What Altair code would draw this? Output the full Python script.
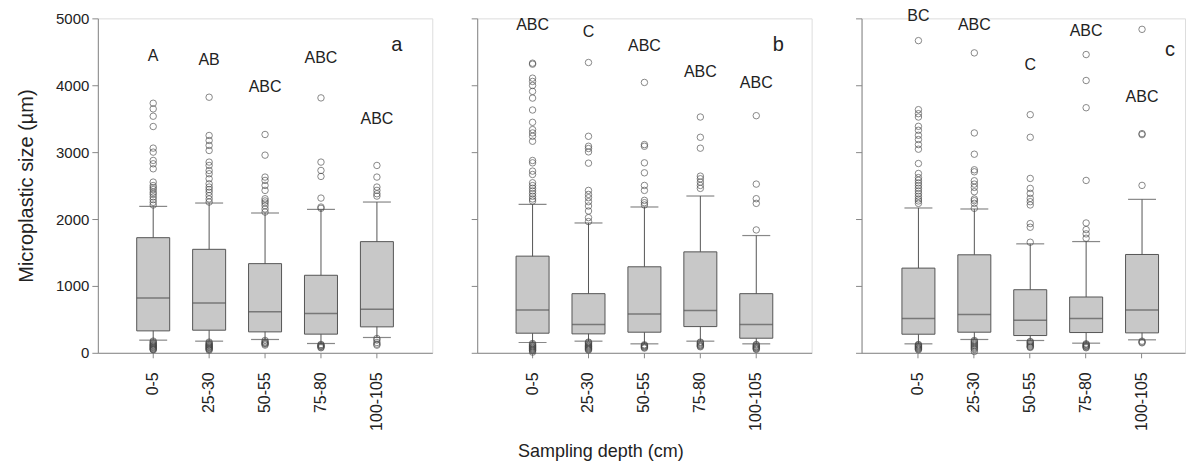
import altair as alt
import pandas as pd

cats = ["0-5", "25-30", "50-55", "75-80", "100-105"]
panel_ids = ["a", "b", "c"]

# box statistics per panel (µm)
q1 = {"a": [328, 338, 313, 279, 388], "b": [293, 283, 308, 392, 218], "c": [278, 308, 258, 303, 298]}
med = {"a": [821, 746, 612, 587, 652], "b": [641, 422, 581, 631, 422], "c": [511, 571, 487, 511, 640]}
q3 = {"a": [1721, 1547, 1333, 1159, 1662], "b": [1445, 884, 1286, 1509, 884], "c": [1266, 1465, 943, 834, 1470]}
wlo = {"a": [189, 174, 199, 139, 229], "b": [154, 174, 134, 174, 134], "c": [134, 199, 184, 144, 194]}
whi = {"a": [2189, 2239, 2090, 2144, 2254], "b": [2219, 1941, 2180, 2344, 1753], "c": [2165, 2150, 1629, 1663, 2294]}

outliers = {
    "a": {
        "0-5": [3731, 3647, 3537, 3383, 3060, 3000, 2876, 2826, 2751, 2552, 2500, 2470, 2440, 2400, 2370, 2330, 2290, 2250, 2210,
                175, 160, 145, 130, 120, 110, 100, 90, 80, 70, 60, 50, 45],
        "25-30": [3821, 3249, 3174, 3100, 3025, 2851, 2801, 2726, 2677, 2602, 2527, 2478, 2440, 2400, 2350, 2300, 2254,
                  160, 145, 130, 120, 110, 100, 90, 80, 70, 60, 50, 40],
        "50-55": [3264, 2955, 2627, 2577, 2502, 2428, 2303, 2270, 2240, 2200, 2150, 2104, 185, 164, 150, 140, 130, 115],
        "75-80": [3811, 2851, 2726, 2637, 2313, 2179, 2160, 125, 115, 105, 95, 85, 75],
        "100-105": [2801, 2627, 2478, 2428, 2378, 2343, 214, 190, 154, 130, 114],
    },
    "b": {
        "0-5": [4330, 4315, 4106, 4057, 3997, 3908, 3808, 3630, 3446, 3337, 3287, 3237, 3163, 2875, 2840, 2716, 2666, 2542, 2500,
                2460, 2420, 2380, 2340, 2300, 2269, 140, 125, 110, 100, 90, 80, 70, 60, 50, 40, 30, 10],
        "25-30": [4340, 3237, 3088, 3054, 3004, 2835, 2428, 2368, 2319, 2259, 2195, 2120, 2021, 1962,
                  160, 150, 135, 120, 110, 100, 90, 80, 70, 60, 50, 40],
        "50-55": [4042, 3113, 3088, 2840, 2691, 2502, 2428, 2279, 2244, 2210, 120, 110, 100, 90, 80, 70],
        "75-80": [3525, 3222, 3059, 2641, 2602, 2552, 2502, 2458, 160, 150, 135, 120, 110, 100, 90],
        "100-105": [3545, 2522, 2304, 2234, 1837, 125, 115, 100, 90, 80, 70, 60, 50],
    },
    "c": {
        "0-5": [4667, 3635, 3575, 3525, 3386, 3327, 3252, 3188, 3113, 3044, 2830, 2681, 2620, 2580, 2540, 2500, 2460, 2420, 2380,
                2340, 2300, 2270, 2234, 125, 115, 105, 95, 85, 75, 65, 55, 45],
        "25-30": [4484, 3287, 2969, 2736, 2706, 2572, 2522, 2473, 2408, 2299, 2274, 2234, 2160,
                  185, 170, 155, 140, 125, 110, 95, 80, 65, 50, 20],
        "50-55": [3560, 3222, 2607, 2458, 2383, 2309, 2259, 2210, 1932, 1877, 1653, 170, 160, 145, 130, 115, 100, 90, 80],
        "75-80": [4459, 4071, 3664, 2577, 1941, 1842, 1778, 1713, 135, 125, 115, 105, 95, 85, 75],
        "100-105": [4836, 3277, 3262, 2503, 174, 160, 149],
    },
}

sig_labels = {"a": ["A", "AB", "ABC", "ABC", "ABC"], "b": ["ABC", "C", "ABC", "ABC", "ABC"], "c": ["BC", "ABC", "C", "ABC", "ABC"]}
sig_y = {"a": [4443, 4378, 3970, 4408, 3488], "b": [4901, 4801, 4588, 4196, 4032], "c": [5030, 4901, 4310, 4816, 3823]}
panel_letter_y = {"a": 4607, "b": 4600, "c": 4520}
panel_letter_dx = {"a": 20, "b": 22, "c": 28}

FONT = "Liberation Sans"
BOX_FILL = "#c8c8c8"
LINE = "#555555"
AXIS = "#777777"
TEXT = "#222222"

# panel widths (px) and band-scale outer padding / alignment so boxes sit at the same offsets
panel_width = {"a": 335, "b": 335, "c": 324}
outer_pad = {"a": 0.695, "b": 0.695, "c": 0.598}
band_align = {"a": 0.5, "b": 0.5, "c": 0.604}


def make_panel(pid, first):
    stats = pd.DataFrame({"cat": cats, "q1": q1[pid], "med": med[pid], "q3": q3[pid],
                          "lo": wlo[pid], "hi": whi[pid]})
    out_rows = [{"cat": c, "v": v} for c in cats for v in outliers[pid][c]]
    outs = pd.DataFrame(out_rows)
    labs = pd.DataFrame({"cat": cats, "lab": sig_labels[pid], "y": sig_y[pid]})
    letter = pd.DataFrame({"cat": [cats[-1]], "lab": [pid], "y": [panel_letter_y[pid]]})

    xenc = alt.X("cat:N", sort=cats,
                 scale=alt.Scale(domain=cats, paddingInner=0.41, paddingOuter=outer_pad[pid],
                                 align=band_align[pid]),
                 axis=alt.Axis(title=None, labelAngle=-90, labelFontSize=16, labelPadding=14,
                               tickSize=5, labelColor=TEXT))
    if first:
        yaxis = alt.Axis(title="Microplastic size (µm)", values=[0, 1000, 2000, 3000, 4000, 5000],
                         format="d", tickSize=6, labelFontSize=15, titleFontSize=20,
                         titleFontWeight="normal", titlePadding=19, labelPadding=3,
                         labelColor=TEXT, titleColor=TEXT, grid=False)
    else:
        yaxis = alt.Axis(title=None, labels=False, values=[0, 1000, 2000, 3000, 4000, 5000],
                         tickSize=6, grid=False)
    yscale = alt.Scale(domain=[0, 5000], nice=False)

    base = alt.Chart(stats)
    whisk = base.mark_rule(color=LINE, strokeWidth=1).encode(
        x=xenc, y=alt.Y("lo:Q", scale=yscale, axis=yaxis), y2="hi:Q")
    box = base.mark_bar(fill=BOX_FILL, stroke=LINE, strokeWidth=1).encode(
        x=xenc, y=alt.Y("q1:Q", scale=yscale), y2="q3:Q")
    median = base.mark_tick(color=LINE, size=33, thickness=1.5, orient="horizontal").encode(
        x=xenc, y=alt.Y("med:Q", scale=yscale))
    cap_hi = base.mark_tick(color=LINE, size=28, thickness=1.2, orient="horizontal").encode(
        x=xenc, y=alt.Y("hi:Q", scale=yscale))
    cap_lo = base.mark_tick(color=LINE, size=28, thickness=1.2, orient="horizontal").encode(
        x=xenc, y=alt.Y("lo:Q", scale=yscale))
    pts = alt.Chart(outs).mark_point(shape="circle", filled=False, size=42, color="#444444",
                                     strokeWidth=0.9).encode(
        x=xenc, y=alt.Y("v:Q", scale=yscale))
    txt = alt.Chart(labs).mark_text(font=FONT, fontSize=16, color=TEXT, baseline="middle").encode(
        x=xenc, y=alt.Y("y:Q", scale=yscale), text="lab:N")
    let = alt.Chart(letter).mark_text(font=FONT, fontSize=20, color=TEXT, baseline="middle",
                                      dx=panel_letter_dx[pid]).encode(
        x=xenc, y=alt.Y("y:Q", scale=yscale), text="lab:N")
    return alt.layer(whisk, box, median, cap_hi, cap_lo, pts, txt, let).properties(
        width=panel_width[pid], height=335)


panels = [make_panel(p, i == 0) for i, p in enumerate(panel_ids)]

left_pair = alt.hconcat(panels[0], panels[1], spacing=37)
chart = alt.hconcat(left_pair, panels[2], spacing=42).properties(
    title=alt.TitleParams("Sampling depth (cm)", orient="bottom", anchor="middle", fontSize=18,
                          fontWeight="normal", font=FONT, color=TEXT, offset=12),
    padding={"left": 16, "top": 7, "right": 5, "bottom": 5},
).configure_view(stroke=None).configure_axis(
    domainColor=AXIS, tickColor=AXIS, labelFont=FONT, titleFont=FONT, domainWidth=1
).configure(background="white")

chart.save("out.html", embed_options={"renderer": "svg", "actions": False})
